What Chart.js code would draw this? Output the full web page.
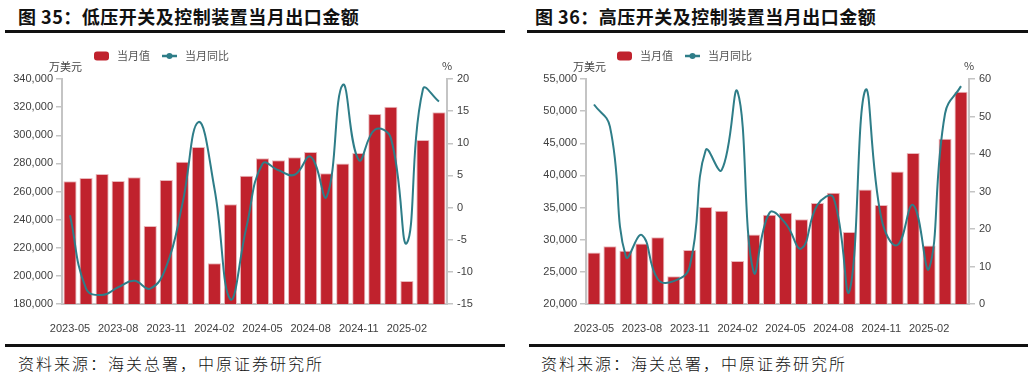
<!DOCTYPE html>
<html>
<head>
<meta charset="utf-8">
<script src="https://cdn.jsdelivr.net/npm/chart.js@4.4.1/dist/chart.umd.min.js"></script>
<style>
  body { margin: 0; background: #fff; width: 1034px; height: 378px; overflow: hidden; position: relative; }
  .panel { position: absolute; top: 0; width: 517px; height: 378px; }
  .title { position: absolute; left: 18px; top: 3px; font: bold 18px "Noto Sans CJK SC", sans-serif; letter-spacing: 0.5px; color: #111; white-space: nowrap; }
  .rule { position: absolute; left: 5px; width: 500px; height: 3px; background: #111; }
  .wrap { position: absolute; left: 0; top: 40px; width: 517px; height: 300px; }
  .source { position: absolute; left: 18px; top: 351px; font: 300 16px "Noto Sans CJK SC", sans-serif; letter-spacing: 2px; color: #111; white-space: nowrap; }
</style>
</head>
<body>
<div class="panel" style="left:0">
  <div class="title">图 35：低压开关及控制装置当月出口金额</div>
  <div class="rule" style="top:30px"></div>
  <div class="wrap"><canvas id="chart1"></canvas></div>
  <div class="rule" style="top:344px"></div>
  <div class="source">资料来源：海关总署，中原证券研究所</div>
</div>
<div class="panel" style="left:517px">
  <div class="title">图 36：高压开关及控制装置当月出口金额</div>
  <div class="rule" style="top:30px;left:10px;width:501px"></div>
  <div class="wrap"><canvas id="chart2"></canvas></div>
  <div class="rule" style="top:344px;left:12px;width:499px"></div>
  <div class="source" style="left:24px">资料来源：海关总署，中原证券研究所</div>
</div>
<script>
// months 2023-05 .. 2025-04
const months = ['2023-05','2023-06','2023-07','2023-08','2023-09','2023-10','2023-11','2023-12',
  '2024-01','2024-02','2024-03','2024-04','2024-05','2024-06','2024-07','2024-08','2024-09','2024-10',
  '2024-11','2024-12','2025-01','2025-02','2025-03','2025-04'];

const seriesNames = ['当月值', '当月同比'];

// 图35 低压 (万美元, %)
const lowValue = [267300, 269600, 272400, 267400, 270100, 235500, 268200, 281200, 291600, 208900, 250900, 271200,
  283600, 282200, 284300, 288100, 272900, 280000, 287400, 315100, 320300, 196400, 296600, 316300];
const lowYoy = [-1.2, -12.6, -13.6, -12.4, -11.4, -12.6, -9.2, 0.5, 13.3, 3.0, -14.3, -3.0,
  6.8, 5.8, 5.1, 7.9, 1.7, 19.1, 7.4, 12.1, 10.8, -5.5, 18.4, 16.5];

// 图36 高压 (万美元, %)
const highValue = [28000, 29000, 28300, 29400, 30400, 24300, 28400, 35100, 34500, 26700, 30800, 33900,
  34200, 33200, 35700, 37300, 31200, 37800, 35400, 40600, 43500, 29100, 45700, 53000];
const highYoy = [53.2, 47.3, 12.6, 18.4, 6.6, 6.1, 10.0, 41.0, 35.7, 56.6, 8.6, 24.3,
  21.5, 14.8, 26.4, 28.4, 3.3, 57.0, 23.0, 15.7, 26.4, 9.5, 50.8, 58.1];

const leftAxis1 = { min: 180000, max: 340000, step: 20000 };
const rightAxis1 = { min: -15, max: 20, step: 5 };
const leftAxis2 = { min: 20000, max: 55000, step: 5000 };
const rightAxis2 = { min: 0, max: 60, step: 10 };

const barColor = '#C0222D';
const lineColor = '#2E7D88';
const axisGrey = '#c4c4c4';
const tickFont = { family: '"Liberation Sans", Arial, sans-serif', size: 11 };

// legend + axis unit captions
const decor = {
  id: 'decor',
  afterDraw(chart, args, opts) {
    const ctx = chart.ctx;
    ctx.save();
    const x0 = opts.legendX, y0 = opts.legendY;
    ctx.fillStyle = barColor;
    ctx.beginPath();
    ctx.roundRect(x0, y0 - 4.5, 15, 9, 3);
    ctx.fill();
    ctx.font = '11px "Noto Sans CJK SC", sans-serif';
    ctx.fillStyle = '#555';
    ctx.textBaseline = 'middle';
    ctx.fillText(chart.data.datasets[1].label, x0 + 23, y0);
    ctx.strokeStyle = lineColor;
    ctx.lineWidth = 2.5;
    ctx.beginPath();
    ctx.moveTo(x0 + 68, y0);
    ctx.lineTo(x0 + 83, y0);
    ctx.stroke();
    ctx.fillStyle = lineColor;
    ctx.beginPath();
    ctx.arc(x0 + 75.5, y0, 3, 0, Math.PI * 2);
    ctx.fill();
    ctx.fillStyle = '#555';
    ctx.fillText(chart.data.datasets[0].label, x0 + 91, y0);
    // units
    ctx.fillStyle = '#444';
    ctx.font = '11px "Noto Sans CJK SC", sans-serif';
    ctx.fillText('万美元', opts.unitX, 27);
    ctx.textAlign = 'center';
    ctx.fillText('%', chart.chartArea.right, 26);
    ctx.restore();
  }
};

function makeConfig(values, yoy, left, right, leftW, rightW, legendX, unitX) {
  return {
    data: {
      labels: months,
      datasets: [
        {
          type: 'line',
          label: seriesNames[1],
          data: yoy,
          yAxisID: 'y1',
          borderColor: lineColor,
          borderWidth: 2,
          pointRadius: 0,
          tension: 0.45,
          order: 0
        },
        {
          type: 'bar',
          label: seriesNames[0],
          data: values,
          yAxisID: 'y',
          backgroundColor: barColor,
          borderColor: '#e9b8bc',
          borderWidth: 1,
          categoryPercentage: 1,
          barPercentage: 0.82,
          order: 1
        }
      ]
    },
    options: {
      responsive: true,
      maintainAspectRatio: false,
      animation: false,
      layout: { padding: { top: 39, left: 0, right: 0, bottom: 0 } },
      plugins: {
        legend: { display: false },
        tooltip: { enabled: false },
        decor: { legendX: legendX, legendY: 16, unitX: unitX }
      },
      scales: {
        x: {
          grid: { display: false },
          border: { color: axisGrey, width: 2 },
          ticks: {
            autoSkip: false,
            maxRotation: 0,
            padding: 10,
            color: '#404040',
            font: tickFont,
            callback: function (v, i) { return i % 3 === 0 ? this.getLabelForValue(v) : ''; }
          },
          afterFit: s => { s.height = 36; }
        },
        y: {
          position: 'left',
          min: left.min, max: left.max,
          grid: { drawOnChartArea: false, color: axisGrey, tickLength: 6, lineWidth: 1.5 },
          border: { color: axisGrey, width: 2 },
          ticks: {
            stepSize: left.step,
            padding: 3,
            color: '#404040',
            font: tickFont,
            callback: v => v.toLocaleString('en-US')
          },
          afterFit: s => { s.width = leftW; }
        },
        y1: {
          position: 'right',
          min: right.min, max: right.max,
          grid: { drawOnChartArea: false, color: axisGrey, tickLength: 6, lineWidth: 1.5 },
          border: { color: axisGrey, width: 2 },
          ticks: { stepSize: right.step, padding: 4, color: '#404040', font: tickFont },
          afterFit: s => { s.width = rightW; }
        }
      }
    },
    plugins: [decor]
  };
}

new Chart('chart1', makeConfig(lowValue, lowYoy, leftAxis1, rightAxis1, 62, 70, 94, 49));
new Chart('chart2', makeConfig(highValue, highYoy, leftAxis2, rightAxis2, 69, 65, 100, 56));
</script>
</body>
</html>
